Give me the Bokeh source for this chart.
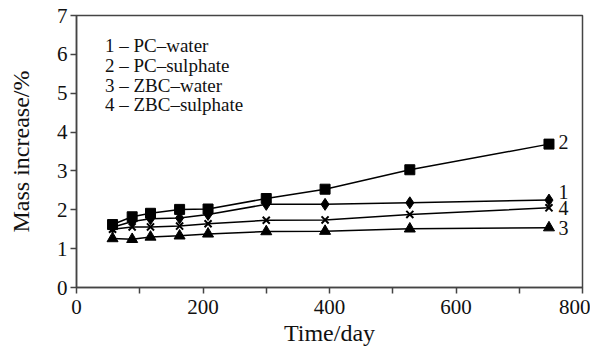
from bokeh.plotting import figure
from bokeh.models import Range1d, FixedTicker, Label
from bokeh.embed import file_html
from bokeh.resources import INLINE

days = [57, 88, 117, 163, 208, 300, 393, 527, 747]
pc_water = [1.55, 1.70, 1.77, 1.79, 1.88, 2.14, 2.14, 2.18, 2.25]
pc_sulphate = [1.62, 1.82, 1.91, 2.01, 2.02, 2.29, 2.53, 3.03, 3.69]
zbc_water = [1.26, 1.24, 1.30, 1.33, 1.38, 1.44, 1.45, 1.51, 1.54]
zbc_sulphate = [1.50, 1.56, 1.56, 1.58, 1.64, 1.73, 1.74, 1.88, 2.05]

legend_lines = ["1 \u2013 PC\u2013water", "2 \u2013 PC\u2013sulphate",
                "3 \u2013 ZBC\u2013water", "4 \u2013 ZBC\u2013sulphate"]
end_labels = ["1", "2", "3", "4"]
x_ticks = [0, 100, 200, 300, 400, 500, 600, 700, 800]
y_ticks = [0, 1, 2, 3, 4, 5, 6, 7]

FONT = "'Liberation Serif', 'Times New Roman', serif"

p = figure(width=590, height=348, output_backend="svg", toolbar_location=None,
           x_range=Range1d(0, 800), y_range=Range1d(0, 7))
p.min_border_left = 76
p.min_border_right = 8
p.min_border_top = 15
p.min_border_bottom = 58
p.grid.visible = False
p.outline_line_color = "#444444"
p.outline_line_width = 1.5
p.background_fill_color = "white"
p.border_fill_color = "white"

for ax in (p.xaxis[0], p.yaxis[0]):
    ax.axis_line_color = "#444444"
    ax.axis_line_width = 1.5
    ax.major_tick_line_color = "#444444"
    ax.major_tick_line_width = 1.5
    ax.major_tick_out = 6
    ax.major_tick_in = 0
    ax.minor_tick_line_color = None
    ax.major_label_text_font = FONT
    ax.major_label_text_font_size = "21px"
    ax.major_label_text_color = "#111111"
    ax.axis_label_text_font = FONT
    ax.axis_label_text_font_size = "24px"
    ax.axis_label_text_font_style = "normal"
    ax.axis_label_text_color = "#111111"

p.xaxis.ticker = FixedTicker(ticks=x_ticks)
p.xaxis.major_label_overrides = {t: "" for t in x_ticks if t % 200 != 0}
p.yaxis.ticker = FixedTicker(ticks=y_ticks)
p.xaxis.axis_label = "Time/day"
p.yaxis.axis_label = "Mass increase/%"
p.xaxis.major_label_standoff = 6
p.yaxis.major_label_standoff = 3
p.xaxis.axis_label_standoff = 3
p.yaxis.axis_label_standoff = 20

series = [pc_water, pc_sulphate, zbc_water, zbc_sulphate]
for s in series:
    p.line(days, s, line_color="black", line_width=1.5)

p.scatter(days, pc_water, marker="diamond", size=12, color="black")
p.scatter(days, pc_sulphate, marker="square", size=10, color="black")
p.scatter(days, zbc_water, marker="triangle", size=11, color="black")
p.scatter(days, zbc_sulphate, marker="x", size=10, line_color="black", line_width=2)

legend_y = [6.22, 5.72, 5.2, 4.7]
for txt, yy in zip(legend_lines, legend_y):
    p.add_layout(Label(x=45, y=yy, text=txt, text_font=FONT, text_font_size="19px",
                       text_baseline="middle", text_color="#111111"))

end_y = [2.47, 3.74, 1.53, 2.04]
for txt, yy in zip(end_labels, end_y):
    p.add_layout(Label(x=762, y=yy, text=txt, text_font=FONT, text_font_size="20px",
                       text_baseline="middle", text_color="#111111"))

open("out.html", "w").write(file_html(p, INLINE))
